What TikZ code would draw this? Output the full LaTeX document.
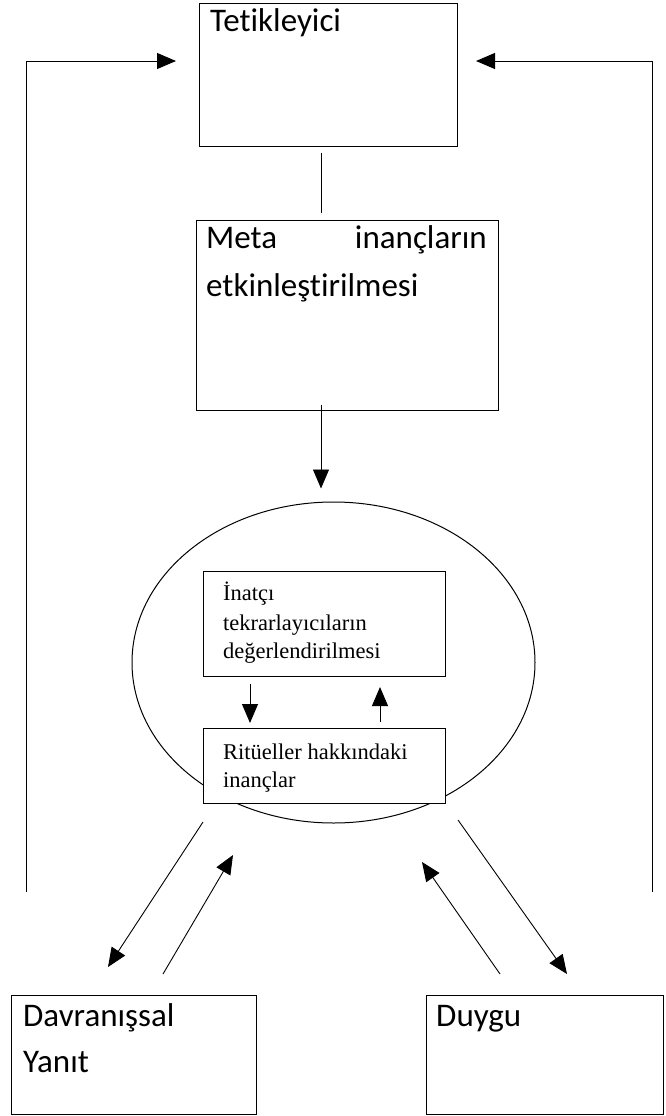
\documentclass[tikz,border=0pt]{standalone}
\usepackage{fontspec}
\setmainfont[Ligatures=NoCommon]{Carlito}
\newfontfamily\serifface{Liberation Serif}
\usetikzlibrary{shapes.geometric,arrows.meta,calc}
\tikzset{
  box/.style={draw, line width=1pt, rectangle, inner sep=0pt, anchor=north west},
  innerbox/.style={box, fill=white},
  sanstext/.style={inner sep=0pt, anchor=base west, font=\fontsize{33}{40}\selectfont},
  seriftext/.style={inner sep=0pt, anchor=base west, font=\serifface\fontsize{22.5}{28}\selectfont},
  conn/.style={line width=0.9pt},
  arr/.style={conn, -{Triangle[length=19pt,width=16pt]}},
}
\begin{document}
\begin{tikzpicture}[x=1pt,y=-1pt]
\useasboundingbox (0,0) rectangle (665,1116);
% boxes
\node[box, minimum width=258pt, minimum height=143pt] (tet) at (199,3) {};
\node[box, minimum width=302pt, minimum height=190pt] (meta) at (196,220) {};
\node[draw, line width=1pt, ellipse, minimum width=403pt, minimum height=321pt, inner sep=0pt] (ell) at (333.5,662.5) {};
\node[innerbox, minimum width=242pt, minimum height=105pt] (in1) at (203,571) {};
\node[innerbox, minimum width=242pt, minimum height=75pt] (in2) at (203,728) {};
\node[box, minimum width=245pt, minimum height=119pt] (dav) at (11,995) {};
\node[box, minimum width=237pt, minimum height=119pt] (duy) at (426,995) {};
% texts
\node[sanstext] (tetT) at (210,32) {Tetikleyici};
\node[sanstext] (metaA) at (206,248) {Meta};
\node[sanstext, anchor=base east] (metaB) at (487,248) {inançların};
\node[sanstext] (metaC) at (206,296) {etkinleştirilmesi};
\node[seriftext] (in1A) at (223,600) {İnatçı};
\node[seriftext] (in1B) at (223,630) {tekrarlayıcıların};
\node[seriftext] (in1C) at (223,658) {değerlendirilmesi};
\node[seriftext] (in2A) at (223,759) {Ritüeller hakkındaki};
\node[seriftext] (in2B) at (223,787) {inançlar};
\node[sanstext] (davA) at (23,1026) {Davranışsal};
\node[sanstext] (davB) at (23,1072) {Yanıt};
\node[sanstext] (duyA) at (436,1026) {Duygu};
% helper coordinates
\coordinate (mx) at (321,0);
\coordinate (fy) at (0,61);
\coordinate (lb) at (26,892);
\coordinate (rb) at (652,892);
\coordinate (dx) at (250,0);
\coordinate (ux) at (380,0);
\coordinate (l1s) at (203,822);
\coordinate (l1e) at (108,967);
\coordinate (l2s) at (163,974);
\coordinate (l2e) at (233,855);
\coordinate (r1s) at (500,974);
\coordinate (r1e) at (422,862);
\coordinate (r2s) at (458,820);
\coordinate (r2e) at (567,974);
% connectors
\draw[conn, shorten <=6pt, shorten >=7pt] (tet.south -| mx) -- (meta.north -| mx);
\draw[arr, shorten <=-6pt, shorten >=13pt] (meta.south -| mx) -- (ell.north -| mx);
\draw[arr, shorten >=23pt] (lb) |- (tet.west |- fy);
\draw[arr, shorten >=18pt] (rb) |- (tet.east |- fy);
\draw[arr, shorten <=7pt, shorten >=5pt] (in1.south -| dx) -- (in2.north -| dx);
\draw[arr, shorten <=6pt, shorten >=10pt] (in2.north -| ux) -- (in1.south -| ux);
\draw[arr] (l1s) -- (l1e);
\draw[arr] (l2s) -- (l2e);
\draw[arr] (r1s) -- (r1e);
\draw[arr] (r2s) -- (r2e);
\end{tikzpicture}
\end{document}
